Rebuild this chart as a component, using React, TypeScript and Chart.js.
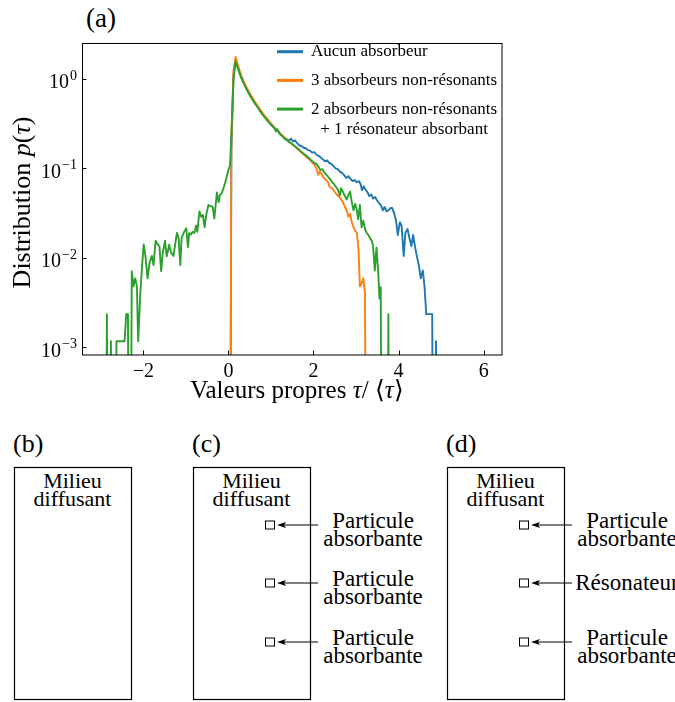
import React, { useEffect, useRef } from 'react';
import { Chart, registerables } from 'chart.js';

Chart.register(...registerables);

const FONT = "'Liberation Serif', Tinos, serif";

// ---- axis ticks ----
const xTicks = [-2, 0, 2, 4, 6];
const xTickLabels = ['−2', '0', '2', '4', '6'];
const yTicks = [1e-3, 1e-2, 1e-1, 1];
const yTickExponents = ['−3', '−2', '−1', '0'];

// ---- series ----
const seriesLabels = [
  'Aucun absorbeur',
  '3 absorbeurs non-résonants',
  '2 absorbeurs non-résonants\n+ 1 résonateur absorbant',
];
const seriesColors = ['#1f77b4', '#ff7f0e', '#2ca02c'];

// [tau/<tau>, p(tau)]; 0 = empty bin
const aucunAbsorbeur: [number, number][] = [
  [0.03, 0], [0.07, 0.15], [0.12, 1.1], [0.17, 1.6], [0.22, 1.35], [0.27, 1.15], [0.32, 0.99],
  [0.37, 0.88], [0.42, 0.79], [0.47, 0.71], [0.52, 0.645], [0.57, 0.59], [0.62, 0.54], [0.67, 0.5],
  [0.72, 0.46], [0.77, 0.425], [0.82, 0.395], [0.87, 0.37], [0.92, 0.345], [0.97, 0.325], [1.02, 0.3],
  [1.07, 0.29], [1.12, 0.265], [1.17, 0.26], [1.22, 0.24], [1.27, 0.232], [1.32, 0.22], [1.37, 0.212],
  [1.42, 0.205], [1.47, 0.215], [1.52, 0.2], [1.57, 0.205], [1.62, 0.19], [1.67, 0.18], [1.72, 0.178],
  [1.77, 0.17], [1.82, 0.168], [1.87, 0.16], [1.92, 0.158], [1.97, 0.15], [2.02, 0.152], [2.07, 0.142],
  [2.12, 0.138], [2.17, 0.132], [2.22, 0.126], [2.27, 0.12], [2.32, 0.123], [2.37, 0.115], [2.42, 0.112],
  [2.47, 0.106], [2.52, 0.1], [2.57, 0.098], [2.62, 0.092], [2.67, 0.089], [2.72, 0.084], [2.77, 0.078],
  [2.82, 0.082], [2.87, 0.076], [2.92, 0.072], [2.97, 0.074], [3.02, 0.07], [3.07, 0.072], [3.11, 0.066],
  [3.14, 0.057], [3.18, 0.063], [3.22, 0.058], [3.27, 0.054], [3.31, 0.049], [3.36, 0.051], [3.4, 0.046],
  [3.45, 0.048], [3.49, 0.044], [3.54, 0.041], [3.58, 0.039], [3.63, 0.034], [3.67, 0.037], [3.72, 0.033],
  [3.76, 0.034], [3.81, 0.036], [3.85, 0.036], [3.9, 0.031], [3.94, 0.026], [3.98, 0.018], [4.03, 0.025],
  [4.07, 0.023], [4.12, 0.0105], [4.16, 0.019], [4.21, 0.021], [4.25, 0.017], [4.3, 0.0135], [4.34, 0.018],
  [4.39, 0.013], [4.43, 0.0104], [4.48, 0.008], [4.52, 0.0059], [4.57, 0.0072], [4.61, 0.0047],
  [4.65, 0.00235], [4.7, 0.00235], [4.75, 0.00235], [4.79, 0.00235], [4.83, 0], [4.88, 0.00117], [4.92, 0],
];

const troisAbsorbeurs: [number, number][] = [
  [0.03, 0], [0.07, 0.2], [0.12, 1.25], [0.17, 1.76], [0.22, 1.45], [0.27, 1.22], [0.32, 1.04],
  [0.37, 0.92], [0.42, 0.82], [0.47, 0.74], [0.52, 0.67], [0.57, 0.61], [0.62, 0.56], [0.67, 0.515],
  [0.72, 0.475], [0.77, 0.44], [0.82, 0.405], [0.87, 0.38], [0.92, 0.355], [0.97, 0.33], [1.02, 0.31],
  [1.07, 0.29], [1.12, 0.275], [1.17, 0.26], [1.22, 0.245], [1.27, 0.232], [1.32, 0.22], [1.37, 0.21],
  [1.42, 0.2], [1.47, 0.19], [1.52, 0.182], [1.57, 0.174], [1.62, 0.166], [1.67, 0.158], [1.72, 0.15],
  [1.77, 0.143], [1.82, 0.136], [1.87, 0.13], [1.92, 0.124], [1.97, 0.117], [2.02, 0.11], [2.07, 0.1],
  [2.11, 0.085], [2.15, 0.092], [2.2, 0.085], [2.24, 0.078], [2.29, 0.075], [2.34, 0.07], [2.38, 0.062],
  [2.43, 0.06], [2.47, 0.057], [2.52, 0.053], [2.56, 0.05], [2.61, 0.048], [2.65, 0.045], [2.7, 0.041],
  [2.74, 0.037], [2.78, 0.034], [2.82, 0.029], [2.86, 0.031], [2.9, 0.025], [2.94, 0.022], [2.98, 0.02],
  [3.02, 0.019], [3.06, 0.012], [3.09, 0.0048], [3.13, 0.0052], [3.17, 0.0059], [3.21, 0.004], [3.25, 0],
];

const deuxAbsorbeursResonateur: [number, number][] = [
  [-2.9, 0], [-2.855, 0.00235], [-2.81, 0], [-2.76, 0.00117], [-2.71, 0], [-2.67, 0], [-2.63, 0.00117],
  [-2.59, 0.00117], [-2.54, 0.00117], [-2.49, 0.00117], [-2.44, 0.00117], [-2.4, 0.00235], [-2.36, 0.00235],
  [-2.32, 0], [-2.27, 0.0071], [-2.23, 0.0048], [-2.19, 0.0059], [-2.15, 0.0048], [-2.12, 0.00117],
  [-2.07, 0.004], [-2.03, 0.0079], [-1.99, 0.0141], [-1.95, 0.0105], [-1.9, 0.0059], [-1.85, 0.0089],
  [-1.8, 0.0105], [-1.76, 0.0083], [-1.71, 0.0155], [-1.66, 0.0141], [-1.62, 0.0135], [-1.58, 0.0071],
  [-1.54, 0.0115], [-1.49, 0.0155], [-1.45, 0.0104], [-1.39, 0.014], [-1.35, 0.0115], [-1.29, 0.0105],
  [-1.25, 0.0141], [-1.21, 0.019], [-1.17, 0.0166], [-1.13, 0.0083], [-1.1, 0.0166], [-1.04, 0.0195],
  [-0.99, 0.0214], [-0.95, 0.0132], [-0.92, 0.019], [-0.88, 0.0182], [-0.84, 0.0195], [-0.8, 0.019],
  [-0.76, 0.0229], [-0.73, 0.0195], [-0.68, 0.0331], [-0.64, 0.0288], [-0.6, 0.0302], [-0.56, 0.0219],
  [-0.52, 0.0302], [-0.47, 0.0389], [-0.43, 0.038], [-0.37, 0.0372], [-0.33, 0.0275], [-0.27, 0.0537],
  [-0.23, 0.0417], [-0.2, 0.0501], [-0.16, 0.0525], [-0.12, 0.0589], [-0.08, 0.0676], [-0.04, 0.0813],
  [0.0, 0.0955], [0.04, 0.11], [0.08, 0.32], [0.12, 1.0], [0.17, 1.57], [0.22, 1.33], [0.27, 1.13],
  [0.32, 0.98], [0.37, 0.87], [0.42, 0.78], [0.47, 0.7], [0.52, 0.64], [0.57, 0.585], [0.62, 0.535],
  [0.67, 0.495], [0.72, 0.455], [0.77, 0.42], [0.82, 0.39], [0.87, 0.365], [0.92, 0.34], [0.97, 0.32],
  [1.02, 0.3], [1.07, 0.285], [1.12, 0.26], [1.15, 0.275], [1.19, 0.25], [1.22, 0.24], [1.27, 0.228],
  [1.32, 0.215], [1.37, 0.207], [1.42, 0.198], [1.47, 0.192], [1.52, 0.184], [1.57, 0.176], [1.62, 0.168],
  [1.67, 0.16], [1.72, 0.152], [1.77, 0.146], [1.82, 0.14], [1.87, 0.133], [1.92, 0.127], [1.97, 0.12],
  [2.02, 0.115], [2.07, 0.112], [2.12, 0.104], [2.16, 0.096], [2.21, 0.098], [2.25, 0.09], [2.3, 0.085],
  [2.35, 0.08], [2.39, 0.076], [2.44, 0.07], [2.48, 0.067], [2.53, 0.062], [2.57, 0.058], [2.62, 0.05],
  [2.65, 0.06], [2.69, 0.055], [2.73, 0.05], [2.78, 0.045], [2.82, 0.05], [2.86, 0.055], [2.9, 0.042],
  [2.94, 0.034], [2.98, 0.04], [3.02, 0.034], [3.05, 0.027], [3.09, 0.039], [3.13, 0.022], [3.17, 0.026],
  [3.21, 0.021], [3.25, 0.019], [3.29, 0.018], [3.33, 0.0165], [3.37, 0.0155], [3.4, 0.0135], [3.44, 0.0072],
  [3.48, 0.013], [3.52, 0.007], [3.55, 0.0035], [3.58, 0.0047], [3.62, 0], [3.67, 0], [3.72, 0],
  [3.76, 0.00235], [3.8, 0],
];

const seriesData = [aucunAbsorbeur, troisAbsorbeurs, deuxAbsorbeursResonateur];

// ---- diagram content ----
const panelNames = ['(b)', '(c)', '(d)'];
const panelParticles: string[][][] = [
  [],
  [['Particule', 'absorbante'], ['Particule', 'absorbante'], ['Particule', 'absorbante']],
  [['Particule', 'absorbante'], ['Résonateur'], ['Particule', 'absorbante']],
];

// layout constants
const X_MIN = -3.44, X_MAX = 6.43;
const Y_MIN = 8.2e-4, Y_MAX = 2.52;
const LOG_FLOOR = 1e-7; // empty bins are sent far below the axis, as matplotlib clips them
const PANEL_LEFT = [14, 193, 447];
const PARTICLE_ROWS = [525, 583, 642];

type Run = { t: string; i?: boolean };

function drawRuns(ctx: CanvasRenderingContext2D, runs: Run[], size: number, cx: number, y: number) {
  const widths = runs.map((r) => {
    ctx.font = `${r.i ? 'italic ' : ''}${size}px ${FONT}`;
    return ctx.measureText(r.t).width;
  });
  const total = widths.reduce((s, w) => s + w, 0);
  let x = cx - total / 2;
  runs.forEach((r, k) => {
    ctx.font = `${r.i ? 'italic ' : ''}${size}px ${FONT}`;
    ctx.fillText(r.t, x, y);
    x += widths[k];
  });
}

const decorPlugin = {
  id: 'decor',
  afterDraw(chart: any) {
    const { ctx, chartArea: a, scales } = chart;
    const xs = scales.x;
    const ys = scales.y;
    ctx.save();
    // frame
    ctx.strokeStyle = '#000';
    ctx.lineWidth = 1;
    ctx.strokeRect(a.left + 0.5, a.top + 0.5, a.right - a.left - 0.5, a.bottom - a.top - 0.5);
    // inward ticks
    ctx.beginPath();
    xTicks.forEach((v) => {
      const px = Math.round(xs.getPixelForValue(v)) + 0.5;
      ctx.moveTo(px, a.bottom);
      ctx.lineTo(px, a.bottom - 4.5);
    });
    yTicks.forEach((v) => {
      const py = Math.round(ys.getPixelForValue(v)) + 0.5;
      ctx.moveTo(a.left, py);
      ctx.lineTo(a.left + 4.5, py);
    });
    ctx.stroke();

    // y tick labels 10^n
    ctx.fillStyle = '#000';
    ctx.textAlign = 'left';
    ctx.textBaseline = 'alphabetic';
    yTicks.forEach((v, i) => {
      const py = ys.getPixelForValue(v);
      ctx.font = `14px ${FONT}`;
      const ew = ctx.measureText(yTickExponents[i]).width;
      ctx.font = `20px ${FONT}`;
      const bw = ctx.measureText('10').width;
      const right = a.left - 5;
      ctx.fillText('10', right - ew - bw - 1, py + 9.3);
      ctx.font = `14px ${FONT}`;
      ctx.fillText(yTickExponents[i], right - ew, py + 1);
    });

    // legend (inside, upper right, no frame)
    const lx = a.right - 225;
    chart.data.datasets.forEach((ds: any, i: number) => {
      const ry = a.top + 8.7 + i * 28.7;
      ctx.strokeStyle = ds.borderColor;
      ctx.lineWidth = 3;
      ctx.beginPath();
      ctx.moveTo(lx, ry);
      ctx.lineTo(lx + 26, ry);
      ctx.stroke();
      const lines = String(ds.label).split('\n');
      ctx.font = `17px ${FONT}`;
      ctx.textBaseline = 'middle';
      ctx.fillStyle = '#000';
      const w0 = ctx.measureText(lines[0]).width;
      lines.forEach((t, k) => {
        const w = ctx.measureText(t).width;
        ctx.fillText(t, lx + 34 + (w0 - w) / 2, ry + k * 20.5);
      });
    });

    // axis titles
    ctx.textBaseline = 'alphabetic';
    ctx.fillStyle = '#000';
    drawRuns(
      ctx,
      [{ t: 'Valeurs propres ' }, { t: 'τ', i: true }, { t: '/ ⟨' }, { t: 'τ', i: true }, { t: '⟩' }],
      25,
      (a.left + a.right) / 2 + 5,
      a.bottom + 43
    );
    ctx.save();
    ctx.translate(30, (a.top + a.bottom) / 2 + 3.5);
    ctx.rotate(-Math.PI / 2);
    drawRuns(
      ctx,
      [{ t: 'Distribution ' }, { t: 'p', i: true }, { t: '(' }, { t: 'τ', i: true }, { t: ')' }],
      26,
      0,
      0
    );
    ctx.restore();
    ctx.restore();
  },
};

function Diagram() {
  return (
    <svg
      width={675}
      height={702}
      style={{ position: 'absolute', left: 0, top: 0, fontFamily: FONT }}
    >
      <text x={86} y={27} fontSize={27} fill="#000">(a)</text>
      {PANEL_LEFT.map((L, p) => (
        <g key={p}>
          <text x={L - 1} y={452} fontSize={26} fill="#000">{panelNames[p]}</text>
          <rect x={L + 0.5} y={467.5} width={117} height={232} fill="none" stroke="#000" strokeWidth={1.2} />
          <text x={L + 58.5} y={488} fontSize={22} textAnchor="middle" fill="#000">Milieu</text>
          <text x={L + 58.5} y={506} fontSize={22} textAnchor="middle" fill="#000">diffusant</text>
          {panelParticles[p].map((lines, r) => {
            const y = PARTICLE_ROWS[r];
            return (
              <g key={r}>
                <rect x={L + 72.5} y={y - 4} width={9} height={8} fill="#fff" stroke="#000" strokeWidth={1} />
                <line x1={L + 125} y1={y} x2={L + 90} y2={y} stroke="#000" strokeWidth={1.2} />
                <polygon points={`${L + 84},${y} ${L + 93},${y - 3} ${L + 91},${y} ${L + 93},${y + 3}`} fill="#000" />
                {lines.map((t, k) => (
                  <text
                    key={k}
                    x={L + 180}
                    y={lines.length === 1 ? y + 7 : y + 3 + k * 18}
                    fontSize={23}
                    textAnchor="middle"
                    fill="#000"
                  >
                    {t}
                  </text>
                ))}
              </g>
            );
          })}
        </g>
      ))}
    </svg>
  );
}

export default function App() {
  const ref = useRef<HTMLCanvasElement>(null);

  useEffect(() => {
    if (!ref.current) return;
    const datasets = seriesData.map((pts, i) => ({
      label: seriesLabels[i],
      data: pts.map(([x, y]) => ({ x, y: y > 0 ? y : LOG_FLOOR })),
      borderColor: seriesColors[i],
      backgroundColor: seriesColors[i],
      borderWidth: 1.9,
      pointRadius: 0,
      tension: 0,
      fill: false,
      borderJoinStyle: 'round',
      order: 3 - i,
    }));
    const chart = new Chart(ref.current, {
      type: 'line',
      data: { datasets },
      options: {
        responsive: false,
        animation: false,
        events: [],
        layout: { padding: { top: 43, right: 173, bottom: 0, left: 0 } },
        plugins: { legend: { display: false }, tooltip: { enabled: false }, title: { display: false } },
        scales: {
          x: {
            type: 'linear',
            min: X_MIN,
            max: X_MAX,
            grid: { display: false, drawTicks: false },
            border: { display: false },
            ticks: {
              autoSkip: false,
              maxRotation: 0,
              padding: 4.5,
              color: '#000',
              font: { family: FONT, size: 20 },
              callback: (_v: any, idx: number) => xTickLabels[idx],
            },
            afterBuildTicks: (s: any) => {
              s.ticks = xTicks.map((v) => ({ value: v }));
            },
            afterFit: (s: any) => {
              s.height = 60;
            },
          },
          y: {
            type: 'logarithmic',
            min: Y_MIN,
            max: Y_MAX,
            grid: { display: false, drawTicks: false },
            border: { display: false },
            ticks: { display: false },
            afterBuildTicks: (s: any) => {
              s.ticks = yTicks.map((v) => ({ value: v }));
            },
            afterFit: (s: any) => {
              s.width = 82;
            },
          },
        },
      },
      plugins: [decorPlugin],
    } as any);
    return () => chart.destroy();
  }, []);

  return (
    <div style={{ position: 'absolute', left: 0, top: 0, width: 675, height: 702, background: '#fff', overflow: 'hidden' }}>
      <Diagram />
      <canvas ref={ref} width={675} height={415} style={{ position: 'absolute', left: 0, top: 0 }} />
    </div>
  );
}
